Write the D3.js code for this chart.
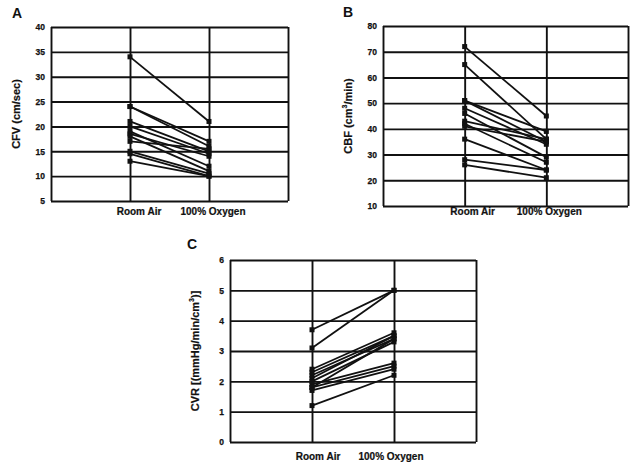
<!DOCTYPE html>
<html>
<head>
<meta charset="utf-8">
<script src="https://cdn.jsdelivr.net/npm/d3@7"></script>
<style>
  html, body { margin: 0; padding: 0; background: #fff; }
  svg { display: block; font-family: "Liberation Sans", Arial, Helvetica, sans-serif; }
</style>
</head>
<body>
<svg id="chart" width="639" height="467"></svg>
<script>
// ---- data ----
const categories = ["Room Air", "100% Oxygen"];

const cfvTicks = [5, 10, 15, 20, 25, 30, 35, 40];
const cfvRoomAir = [34, 24, 24, 21, 20, 19, 18.5, 18, 17, 15, 14.5, 13];
const cfvOxygen  = [21, 17, 16, 15, 14.5, 12, 14, 11, 15.5, 10.5, 10, 10];

const cbfTicks = [10, 20, 30, 40, 50, 60, 70, 80];
const cbfRoomAir = [72, 65, 51, 51, 48, 46, 43, 42, 41, 36, 28, 26];
const cbfOxygen  = [45, 36, 39, 35, 34, 29, 36, 27, 35, 24, 24, 21];

const cvrTicks = [0, 1, 2, 3, 4, 5, 6];
const cvrRoomAir = [3.7, 3.1, 2.4, 2.3, 2.2, 2.1, 2.0, 1.9, 1.8, 1.8, 1.7, 1.2];
const cvrOxygen  = [5.0, 5.0, 3.6, 3.5, 3.4, 3.5, 3.3, 2.6, 3.4, 2.5, 2.4, 2.2];

// ---- layout ----
const panels = [
  { letter: "A", roomAir: cfvRoomAir, oxygen: cfvOxygen, ticks: cfvTicks,
    left: 51, right: 288, top: 27, bottom: 201,
    letterX: 12, letterY: 18, titleX: 16,
    title: [["CFV (cm/sec)", false]], labelY: 215, labelDx: [9, 4] },
  { letter: "B", roomAir: cbfRoomAir, oxygen: cbfOxygen, ticks: cbfTicks,
    left: 383, right: 628, top: 26, bottom: 206,
    letterX: 343, letterY: 17, titleX: 348,
    title: [["CBF (cm", false], ["3", true], ["/min)", false]], labelY: 215, labelDx: [8, 3] },
  { letter: "C", roomAir: cvrRoomAir, oxygen: cvrOxygen, ticks: cvrTicks,
    left: 230, right: 476, top: 260, bottom: 442,
    letterX: 187, letterY: 249, titleX: 195,
    title: [["CVR [(mmHg/min/cm", false], ["3", true], [")]", false]], labelY: 460, labelDx: [6, -3] }
];

const svg = d3.select("#chart");

panels.forEach(p => {
  const g = svg.append("g");
  const x = d3.scaleLinear().domain([0, 3]).range([p.left, p.right]);
  const y = d3.scaleLinear().domain([p.ticks[0], p.ticks[p.ticks.length - 1]]).range([p.bottom, p.top]);
  const w = p.right - p.left, h = p.bottom - p.top;

  // horizontal grid + tick labels
  const yAxis = g.append("g")
    .attr("transform", `translate(${p.left},0)`)
    .call(d3.axisLeft(y).tickValues(p.ticks).tickSize(-w).tickPadding(6).tickFormat(d3.format("d")));
  yAxis.select(".domain").remove();
  yAxis.selectAll(".tick line").attr("stroke", "#111").attr("stroke-width", 1.9);
  yAxis.selectAll(".tick text")
    .attr("font-size", 8.5).attr("font-weight", "bold").attr("fill", "#111")
    .attr("stroke", "#111").attr("stroke-width", 0.25)
    .attr("font-family", "'Liberation Sans', Arial, sans-serif");

  // vertical grid lines (edges + category positions)
  const xAxis = g.append("g")
    .attr("transform", `translate(0,${p.bottom})`)
    .call(d3.axisBottom(x).tickValues([0, 1, 2, 3]).tickSize(-h).tickFormat(""));
  xAxis.select(".domain").remove();
  xAxis.selectAll(".tick line").attr("stroke", "#111").attr("stroke-width", 1.9);

  // category labels
  g.selectAll("text.cat").data(categories).enter().append("text")
    .attr("class", "cat")
    .attr("x", (d, i) => x(i + 1) + p.labelDx[i])
    .attr("y", p.labelY)
    .attr("text-anchor", "middle")
    .attr("font-size", 10).attr("font-weight", "bold").attr("fill", "#111")
    .attr("stroke", "#111").attr("stroke-width", 0.2)
    .text(d => d);

  // subject lines
  const pairs = p.roomAir.map((v, i) => [v, p.oxygen[i]]);
  g.selectAll("line.subj").data(pairs).enter().append("line")
    .attr("class", "subj")
    .attr("x1", x(1)).attr("x2", x(2))
    .attr("y1", d => y(d[0])).attr("y2", d => y(d[1]))
    .attr("stroke", "#111").attr("stroke-width", 1.8);

  // markers
  const pts = [];
  pairs.forEach(d => { pts.push([1, d[0]]); pts.push([2, d[1]]); });
  g.selectAll("rect.pt").data(pts).enter().append("rect")
    .attr("class", "pt")
    .attr("x", d => x(d[0]) - 2.5).attr("y", d => y(d[1]) - 2.5)
    .attr("width", 5).attr("height", 5).attr("fill", "#111");

  // panel letter
  svg.append("text")
    .attr("x", p.letterX).attr("y", p.letterY)
    .attr("font-size", 14).attr("font-weight", "bold").attr("fill", "#111")
    .text(p.letter);

  // y title
  const t = svg.append("text")
    .attr("transform", `translate(${p.titleX},${(p.top + p.bottom) / 2}) rotate(-90)`)
    .attr("text-anchor", "middle")
    .attr("dominant-baseline", "central")
    .attr("font-size", 11).attr("font-weight", "bold").attr("fill", "#111")
    .attr("stroke", "#111").attr("stroke-width", 0.2);
  p.title.forEach(([s, sup]) => {
    const ts = t.append("tspan").text(s);
    if (sup) ts.attr("font-size", 7).attr("dy", -4);
    else if (ts.node().previousSibling) ts.attr("dy", 4);
  });
});
</script>
</body>
</html>
